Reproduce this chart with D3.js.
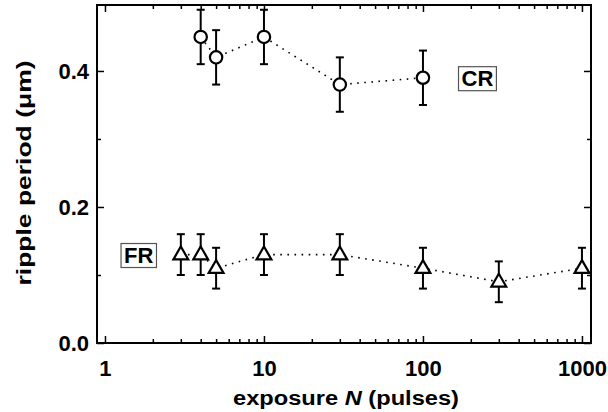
<!DOCTYPE html>
<html>
<head>
<meta charset="utf-8">
<script src="https://cdn.jsdelivr.net/npm/d3@7"></script>
<style>
  body { margin: 0; background: #fff; }
  text { font-family: "Liberation Sans", Arial, sans-serif; font-weight: bold; }
</style>
</head>
<body>
<svg></svg>
<script>
var width = 608;
var height = 412;
var svg = d3.select("svg").attr("width", width).attr("height", height);

// data
var crN = [4, 5, 10, 30, 100];
var crPeriod = [0.45, 0.42, 0.45, 0.38, 0.39];
var crErr = [0.04, 0.04, 0.04, 0.04, 0.04];

var frN = [3, 4, 5, 10, 30, 100, 300, 1000];
var frPeriod = [0.13, 0.13, 0.11, 0.13, 0.13, 0.11, 0.09, 0.11];
var frErr = [0.03, 0.03, 0.03, 0.03, 0.03, 0.03, 0.03, 0.03];

var xTicks = [1, 10, 100, 1000];
var yTicks = [0.0, 0.2, 0.4];
var yMinor = [0.1, 0.3];

var labels = [
  {text: "CR", n: 220, v: 0.39},
  {text: "FR", n: 1.63, v: 0.13}
];

var margin = {top: 5, right: 17, bottom: 69, left: 97};
var w = width - margin.left - margin.right,
    h = height - margin.top - margin.bottom;

var xScale = d3.scaleLog().domain([0.891, 1140]).range([0, w]);
var yScale = d3.scaleLinear().domain([0, 0.497]).range([h, 0]);

var g = svg.append("g").attr("transform", "translate(" + margin.left + "," + margin.top + ")");

// minor log ticks
var xMinor = [];
[1, 10, 100].forEach(function(d) {
  for (var k = 2; k <= 9; k++) xMinor.push(d * k);
});

function styleAxis(sel) {
  sel.select(".domain").remove();
  sel.selectAll("line").attr("stroke", "#000").attr("stroke-width", 1.5);
  sel.selectAll("text").attr("fill", "#000").style("font-size", "22px");
}

// bottom
g.append("g").attr("transform", "translate(0," + h + ")")
  .call(d3.axisBottom(xScale).tickValues(xTicks).tickSizeInner(-7).tickSizeOuter(0).tickPadding(17).tickFormat(d3.format("d")))
  .call(styleAxis);
g.append("g").attr("transform", "translate(0," + h + ")")
  .call(d3.axisBottom(xScale).tickValues(xMinor).tickSizeInner(-4).tickSizeOuter(0).tickFormat(""))
  .call(styleAxis);
// top
g.append("g")
  .call(d3.axisTop(xScale).tickValues(xTicks).tickSizeInner(-7).tickSizeOuter(0).tickFormat(""))
  .call(styleAxis);
g.append("g")
  .call(d3.axisTop(xScale).tickValues(xMinor).tickSizeInner(-4).tickSizeOuter(0).tickFormat(""))
  .call(styleAxis);
// left
g.append("g")
  .call(d3.axisLeft(yScale).tickValues(yTicks).tickSizeInner(-7).tickSizeOuter(0).tickPadding(8).tickFormat(d3.format(".1f")))
  .call(styleAxis);
g.append("g")
  .call(d3.axisLeft(yScale).tickValues(yMinor).tickSizeInner(-4).tickSizeOuter(0).tickFormat(""))
  .call(styleAxis);
// right
g.append("g").attr("transform", "translate(" + w + ",0)")
  .call(d3.axisRight(yScale).tickValues(yTicks).tickSizeInner(-7).tickSizeOuter(0).tickFormat(""))
  .call(styleAxis);
g.append("g").attr("transform", "translate(" + w + ",0)")
  .call(d3.axisRight(yScale).tickValues(yMinor).tickSizeInner(-4).tickSizeOuter(0).tickFormat(""))
  .call(styleAxis);

// frame
g.append("rect").attr("width", w).attr("height", h)
  .attr("fill", "none").attr("stroke", "#000").attr("stroke-width", 2);

function drawSeries(ns, vs, es, shape) {
  var pts = ns.map(function(n, i) { return {n: n, v: vs[i], e: es[i]}; });
  var line = d3.line().x(function(d) { return xScale(d.n); }).y(function(d) { return yScale(d.v); });
  g.append("path").datum(pts).attr("d", line)
    .attr("fill", "none").attr("stroke", "#000").attr("stroke-width", 1.6)
    .attr("stroke-dasharray", "1.6,5.5");

  var eb = g.append("g").selectAll("g").data(pts).enter().append("g")
    .attr("stroke", "#000").attr("stroke-width", 2);
  eb.append("line")
    .attr("x1", function(d) { return xScale(d.n); }).attr("x2", function(d) { return xScale(d.n); })
    .attr("y1", function(d) { return yScale(d.v - d.e); }).attr("y2", function(d) { return yScale(d.v + d.e); });
  eb.append("line")
    .attr("x1", function(d) { return xScale(d.n) - 4; }).attr("x2", function(d) { return xScale(d.n) + 4; })
    .attr("y1", function(d) { return yScale(d.v + d.e); }).attr("y2", function(d) { return yScale(d.v + d.e); });
  eb.append("line")
    .attr("x1", function(d) { return xScale(d.n) - 4; }).attr("x2", function(d) { return xScale(d.n) + 4; })
    .attr("y1", function(d) { return yScale(d.v - d.e); }).attr("y2", function(d) { return yScale(d.v - d.e); });

  var sym = d3.symbol().type(shape).size(shape === d3.symbolCircle ? 120 : 95);
  g.append("g").selectAll("path").data(pts).enter().append("path")
    .attr("d", sym)
    .attr("transform", function(d) { return "translate(" + xScale(d.n) + "," + (yScale(d.v) + (shape === d3.symbolCircle ? 0 : 0.5)) + ")"; })
    .attr("fill", "#fff").attr("stroke", "#000").attr("stroke-width", 2.2);
}

drawSeries(crN, crPeriod, crErr, d3.symbolCircle);
drawSeries(frN, frPeriod, frErr, d3.symbolTriangle);

// series labels in boxes
labels.forEach(function(l) {
  var lg = g.append("g");
  var box = lg.append("rect");
  var t = lg.append("text").attr("x", xScale(l.n)).attr("y", yScale(l.v))
    .attr("text-anchor", "middle").attr("dy", "0.36em")
    .style("font-size", "22px").text(l.text);
  var b = t.node().getBBox();
  box.attr("x", b.x - 3).attr("y", b.y + 1).attr("width", b.width + 6).attr("height", b.height - 1)
    .attr("fill", "#fff").attr("stroke", "#555").attr("stroke-width", 1.2);
});

// axis titles
var xt = svg.append("text").attr("x", 346).attr("y", 405)
  .attr("text-anchor", "middle").style("font-size", "20px")
  .attr("textLength", 226).attr("lengthAdjust", "spacingAndGlyphs");
xt.append("tspan").text("exposure ");
xt.append("tspan").style("font-style", "italic").text("N");
xt.append("tspan").text(" (pulses)");

svg.append("text").attr("transform", "translate(31,173) rotate(-90)")
  .attr("text-anchor", "middle").style("font-size", "21px")
  .attr("textLength", 225).attr("lengthAdjust", "spacingAndGlyphs")
  .text("ripple period (\u03bcm)");
</script>
</body>
</html>
